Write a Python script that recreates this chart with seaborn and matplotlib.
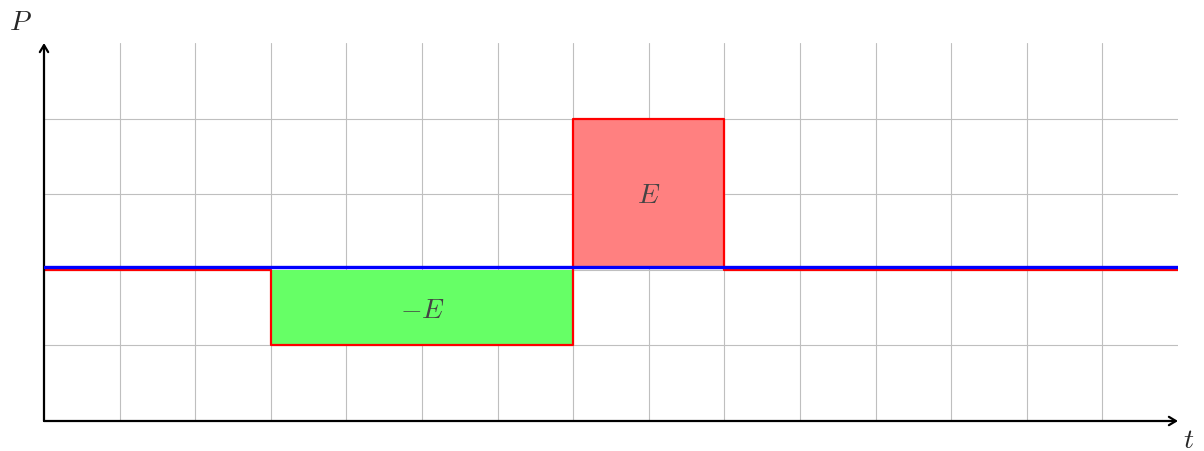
import matplotlib
matplotlib.use("Agg")
import matplotlib.pyplot as plt
import seaborn as sns
import numpy as np

# power profile steps (t, P) - step after each point
step_t = [0, 3, 7, 9, 15]
step_p = [2, 1, 4, 2, 2]
base_level = 2.04
# pulses: (start, end, low, high, colour, label)
pulses = [
    (3, 7, 1, 2, "#66ff66", r"$-E$"),
    (7, 9, 2.04, 4, "#ff8080", r"$E$"),
]

sns.set_style("white")
plt.rcParams["mathtext.fontset"] = "cm"

fig = plt.figure(figsize=(12.04, 4.52), dpi=100)
ax = fig.add_axes([44 / 1204, 30 / 452, 1134 / 1204, 378 / 452])
ax.set_xlim(0, 15)
ax.set_ylim(0, 5)

for gx in range(1, 15):
    ax.axvline(gx, color="#bfbfbf", lw=0.8, zorder=0)
for gy in range(1, 5):
    ax.axhline(gy, color="#bfbfbf", lw=0.8, zorder=0)

for t0, t1, lo, hi, col, lab in pulses:
    ax.fill_between([t0, t1], lo, hi, color=col, lw=0, zorder=1)
    ax.text((t0 + t1) / 2, (lo + hi) / 2 - 0.02, lab, fontsize=20, color="#444444",
            ha="center", va="center", zorder=5)

sns.lineplot(x=np.array(step_t), y=np.array(step_p), ax=ax, color="red", lw=1.6,
             drawstyle="steps-post", sort=False, zorder=3)
ax.plot([0, 15], [base_level, base_level], color="blue", lw=2.4, zorder=4)

for s in ax.spines.values():
    s.set_visible(False)
ax.set_xticks([])
ax.set_yticks([])
ax.set_xlabel("")
ax.set_ylabel("")

arrow = dict(arrowstyle="->,head_length=0.5,head_width=0.3", color="black", lw=1.6,
             shrinkA=0, shrinkB=0)
ax.annotate("", xy=(15, 0), xytext=(0, 0), arrowprops=arrow, annotation_clip=False)
ax.annotate("", xy=(0, 5), xytext=(0, 0), arrowprops=arrow, annotation_clip=False)
fig.text(20 / 1204, 1 - 22 / 452, r"$P$", fontsize=20, ha="center", va="center")
fig.text(1189 / 1204, 1 - 440 / 452, r"$t$", fontsize=20, ha="center", va="center")

fig.savefig("out.png", dpi=100)
